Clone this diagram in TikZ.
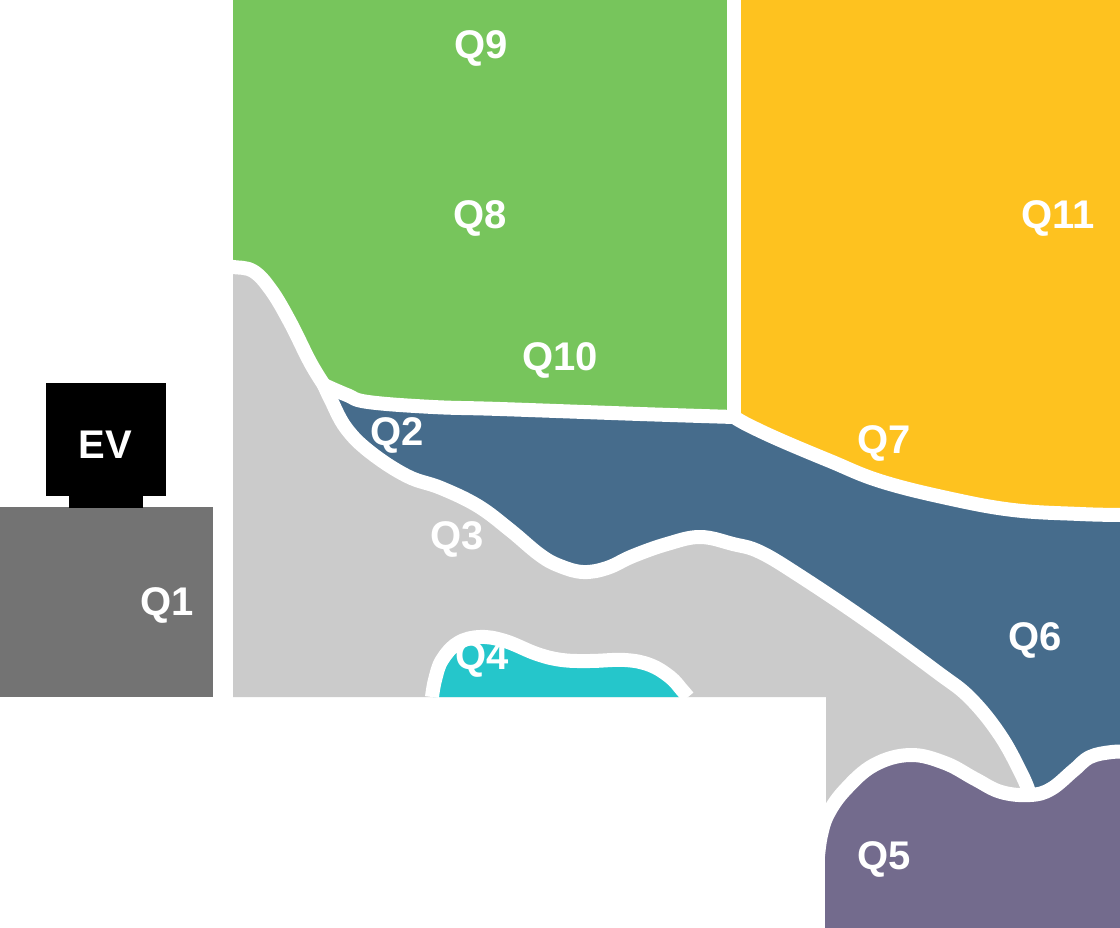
\documentclass[tikz,border=0pt]{standalone}
\usepackage{fontspec}
\setmainfont{Liberation Sans}
\definecolor{cgreen}{HTML}{77C55C}
\definecolor{cyellow}{HTML}{FEC21F}
\definecolor{cblue}{HTML}{466C8C}
\definecolor{clgray}{HTML}{CBCBCB}
\definecolor{cdgray}{HTML}{737373}
\definecolor{ccyan}{HTML}{25C6CB}
\definecolor{cpurple}{HTML}{736B8D}
\begin{document}
\begin{tikzpicture}[x=1pt,y=-1pt,
  lbl/.style={text=white,font=\bfseries\fontsize{40}{44}\selectfont,inner sep=0pt},
  gap/.style={draw=white,line width=14pt,line join=round,line cap=round},
  sm/.style={smooth,tension=0.65}]
\useasboundingbox (0,0) rectangle (1120,928);
\fill[white] (0,0) rectangle (1120,928);

% EV and Q1
\fill[cdgray] (0,507) rectangle (213,697);
\fill[black] (46,383) rectangle (166,496);
\fill[black] (69,494) rectangle (143,508);

% Q3 light gray
\fill[clgray] (233,267)
  -- plot[sm] coordinates {(233,267) (253,271) (271,290) (290,322) (310,362) (324,385)}
  -- plot[sm] coordinates {(324,385) (331,400) (346,428) (370,452) (407,476) (441,488) (478,506) (510,530) (540,555) (560,566) (583,572) (607,568) (633,556) (667,544) (700,537) (733,544) (760,552) (800,576) (867,621) (937,672) (970,698) (1000,735) (1022,775) (1030,795)}
  -- plot[sm] coordinates {(1030,795) (1001,792) (975,779) (945,763) (910,755) (874,765) (845,790) (828,814)}
  -- (826,818) -- (826,697) -- (233,697) -- cycle;

% Q2/Q6 blue
\fill[cblue] (324,385)
  -- plot[sm] coordinates {(324,385) (347,395) (368,402) (433,407) (500,409) (640,414) (734,417)}
  -- plot[sm] coordinates {(734,417) (748,425) (780,440) (830,461) (880,481) (947,498) (1013,510) (1080,514) (1120,515)}
  -- (1120,752)
  -- plot[sm] coordinates {(1120,752) (1112,752) (1090,757) (1074,770) (1051,789) (1030,795)}
  -- plot[sm] coordinates {(1030,795) (1022,775) (1000,735) (970,698) (937,672) (867,621) (800,576) (760,552) (733,544) (700,537) (667,544) (633,556) (607,568) (583,572) (560,566) (540,555) (510,530) (478,506) (441,488) (407,476) (370,452) (346,428) (331,400) (324,385)}
  -- cycle;

% Q4 cyan
\fill[ccyan] (433,697)
  -- plot[sm] coordinates {(433,697) (435,680) (442,660) (458,643) (480,637) (505,641) (537,654) (562,660) (590,661) (625,660) (650,665) (670,677) (682,690) (687,697)}
  -- cycle;

% Q5 purple
\fill[cpurple] (825,928) -- (825,850)
  -- plot[sm] coordinates {(825,850) (828,814) (845,790) (874,765) (910,755) (945,763) (975,779) (1001,792) (1030,795) (1051,789) (1074,770) (1090,757) (1112,752) (1120,752)}
  -- (1120,928) -- cycle;

% Q8/Q9/Q10 green
\fill[cgreen] (233,0) -- (734,0) -- (734,417)
  -- plot[sm] coordinates {(734,417) (640,414) (500,409) (433,407) (368,402) (347,395) (324,385)}
  -- plot[sm] coordinates {(324,385) (310,362) (290,322) (271,290) (253,271) (233,267)}
  -- cycle;

% Q7/Q11 yellow
\fill[cyellow] (734,0) -- (1120,0) -- (1120,515)
  -- plot[sm] coordinates {(1120,515) (1080,514) (1013,510) (947,498) (880,481) (830,461) (780,440) (748,425) (734,417)}
  -- cycle;

% white gaps
\draw[gap] (734,-10) -- (734,417);
\draw[gap] plot[sm] coordinates {(226,266) (233,267) (253,271) (271,290) (290,322) (310,362) (324,385)};
\draw[gap] plot[sm] coordinates {(324,385) (347,395) (368,402) (433,407) (500,409) (640,414) (734,417)};
\draw[gap] plot[sm] coordinates {(734,417) (748,425) (780,440) (830,461) (880,481) (947,498) (1013,510) (1080,514) (1120,515) (1130,515)};
\draw[gap] plot[sm] coordinates {(324,385) (331,400) (346,428) (370,452) (407,476) (441,488) (478,506) (510,530) (540,555) (560,566) (583,572) (607,568) (633,556) (667,544) (700,537) (733,544) (760,552) (800,576) (867,621) (937,672) (970,698) (1000,735) (1022,775) (1030,795)};
\draw[gap] plot[sm] coordinates {(818,856) (821,835) (828,814) (845,790) (874,765) (910,755) (945,763) (975,779) (1001,792) (1030,795) (1051,789) (1074,770) (1090,757) (1112,752) (1130,752)};
\draw[gap,line cap=butt] plot[sm] coordinates {(432,697) (435,680) (442,660) (458,643) (480,637) (505,641) (537,654) (562,660) (590,661) (625,660) (650,665) (670,677) (682,690) (688,697)};

% labels
\node[lbl] (ev) at (105,445) {EV};
\node[lbl] (q1) at (167,605) {Q1};
\node[lbl] (q2) at (397,435) {Q2};
\node[lbl] (q3) at (457,539) {Q3};
\node[lbl] (q4) at (482,659) {Q4};
\node[lbl] (q5) at (884,859) {Q5};
\node[lbl] (q6) at (1035,640) {Q6};
\node[lbl] (q7) at (884,443) {Q7};
\node[lbl] (q8) at (480,218) {Q8};
\node[lbl] (q9) at (481,48) {Q9};
\node[lbl] (q10) at (560,360) {Q10};
\node[lbl] (q11) at (1058,218) {Q11};
\end{tikzpicture}
\end{document}
